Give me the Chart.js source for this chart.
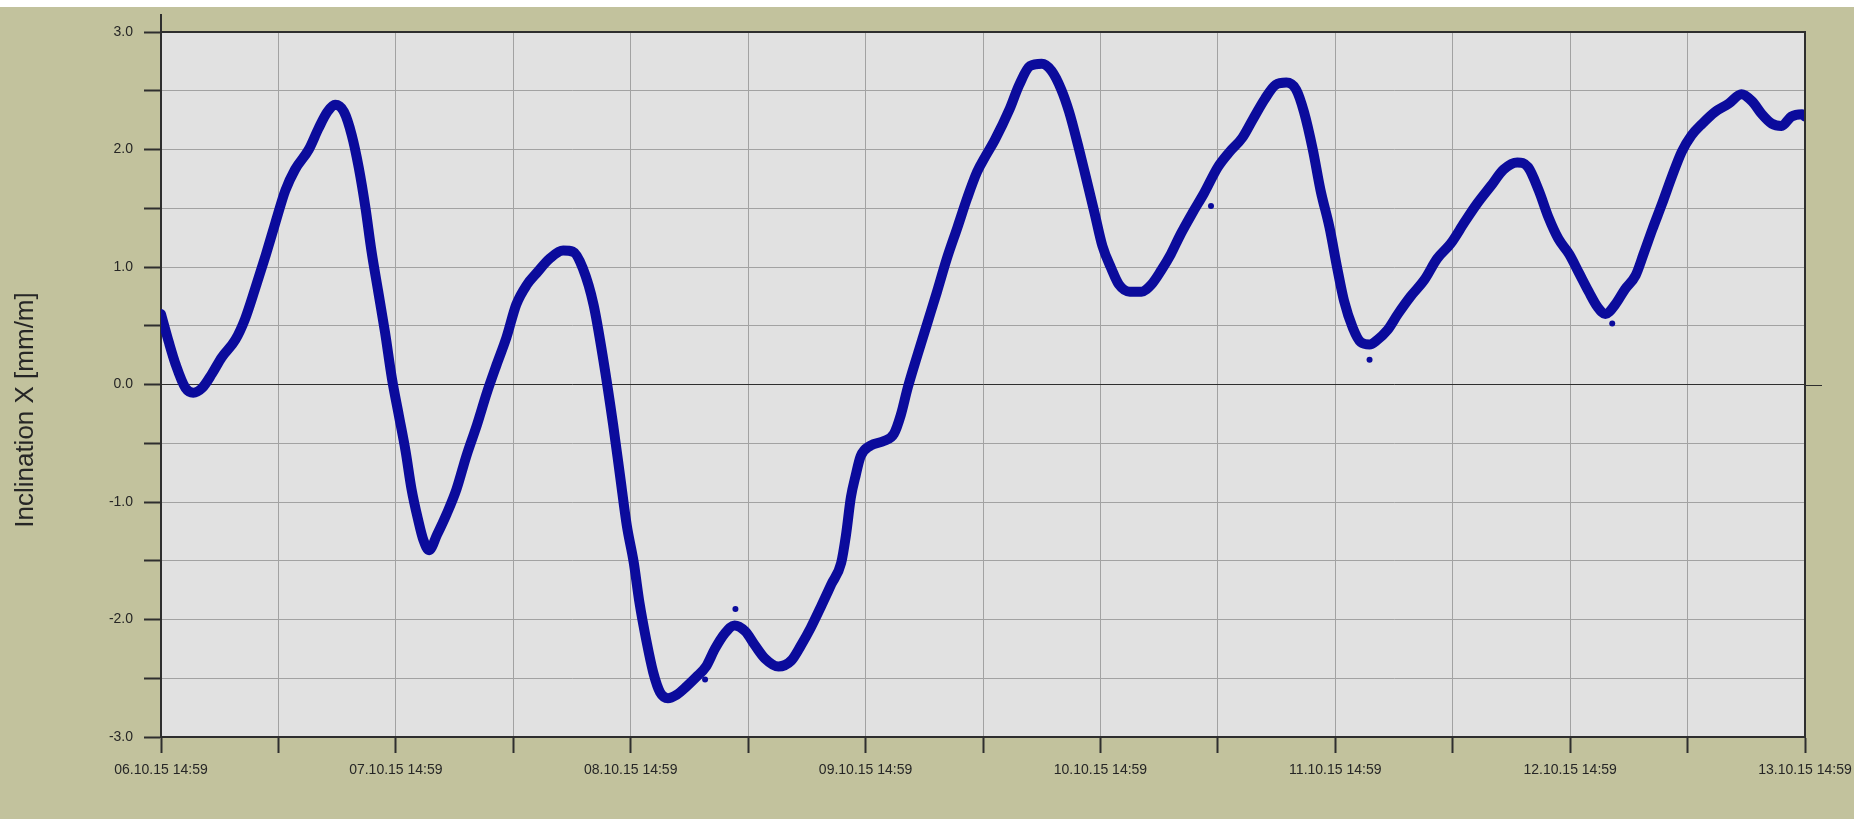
<!DOCTYPE html>
<html>
<head>
<meta charset="utf-8">
<title>Inclination X</title>
<script src="https://cdn.jsdelivr.net/npm/chart.js@4.4.0/dist/chart.umd.min.js"></script>
<style>
  html, body { margin: 0; padding: 0; background: #ffffff; overflow: hidden; }
  #wrap { position: relative; width: 1855px; height: 819px; }
</style>
</head>
<body>
<div id="wrap"><canvas id="chart" width="1855" height="819"></canvas></div>
<script>
// Day labels for the time axis (one per 24 h, starting 06.10.15 14:59)
const xDayLabels = [
  '06.10.15 14:59', '07.10.15 14:59', '08.10.15 14:59', '09.10.15 14:59',
  '10.10.15 14:59', '11.10.15 14:59', '12.10.15 14:59', '13.10.15 14:59'
];

// Hours elapsed since 06.10.15 14:59
const hours = [
  0, 0.8, 1.5, 2.5, 3.3, 4.2, 5.2, 6.2, 7.6, 8.6, 9.6, 10.7, 11.7, 12.7, 13.7,
  15.1, 16.1, 17.0, 17.8, 18.7, 19.5, 20.2, 20.9, 21.5, 22.2, 22.9, 23.6, 24.3,
  25.0, 25.6, 26.3, 26.8, 27.4, 28.2, 29.2, 30.2, 31.2, 32.3, 33.3, 34.3, 35.3,
  36.3, 37.4, 38.4, 39.7, 41.1, 42.1, 43.1, 44.2, 45.2, 46.2, 46.9, 47.6, 48.3,
  48.9, 49.6, 50.3, 51.0, 51.8, 52.7, 53.7, 54.7, 55.7, 56.6, 57.6, 58.6, 59.7,
  60.7, 61.7, 63.1, 64.4, 65.4, 66.4, 67.5, 68.5, 69.5, 70.0, 70.5, 71.0, 71.5,
  72.5, 73.9, 74.9, 75.6, 76.3, 77.3, 78.3, 79.3, 80.3, 81.4, 82.4, 83.4, 84.3,
  85.2, 86.7, 87.7, 88.8, 90.0, 91.0, 92.0, 92.8, 93.7, 94.5, 95.4, 96.2, 97.1,
  97.9, 99.0, 100.2, 101.2, 102.2, 103.2, 104.2, 105.4, 106.6, 108.0, 109.2,
  110.5, 111.6, 112.8, 113.9, 115.0, 116.0, 116.8, 117.7, 118.5, 119.4, 120.2,
  120.9, 121.8, 122.6, 123.5, 124.3, 125.3, 126.4, 127.7, 129.1, 130.4, 131.8,
  133.2, 134.5, 135.9, 137.2, 138.6, 139.7, 140.8, 141.8, 142.8, 143.9, 144.9,
  145.9, 146.8, 147.6, 148.6, 149.6, 150.7, 151.5, 152.4, 153.4, 154.4, 155.4,
  156.4, 157.5, 158.8, 160.2, 161.5, 162.6, 163.6, 164.6, 165.6, 166.6, 167.7, 168.0
];

// Inclination X [mm/m] at each of the hours above
const inclination = [
  0.60, 0.36, 0.17, -0.03, -0.07, -0.03, 0.09, 0.23, 0.38, 0.56, 0.81, 1.10, 1.38, 1.65, 1.83,
  2.00, 2.18, 2.32, 2.38, 2.32, 2.12, 1.85, 1.50, 1.14, 0.79, 0.44, 0.05, -0.26,
  -0.57, -0.89, -1.16, -1.32, -1.41, -1.28, -1.10, -0.89, -0.61, -0.34, -0.07, 0.17, 0.40,
  0.68, 0.85, 0.95, 1.07, 1.14, 1.13, 0.99, 0.68, 0.21, -0.34, -0.77, -1.20, -1.51,
  -1.86, -2.18, -2.45, -2.62, -2.67, -2.64, -2.57, -2.49, -2.40, -2.25, -2.12, -2.05, -2.10,
  -2.22, -2.33, -2.40, -2.35, -2.22, -2.07, -1.88, -1.70, -1.52, -1.28, -0.96, -0.77, -0.61,
  -0.52, -0.48, -0.42, -0.26, -0.03, 0.25, 0.52, 0.79, 1.07, 1.34, 1.59, 1.81, 1.95,
  2.08, 2.34, 2.55, 2.71, 2.73, 2.67, 2.51, 2.32, 2.04, 1.77, 1.46, 1.18, 0.99,
  0.85, 0.79, 0.79, 0.85, 0.97, 1.11, 1.28, 1.46, 1.63, 1.85, 1.98,
  2.10, 2.26, 2.43, 2.55, 2.57, 2.51, 2.32, 2.00, 1.65, 1.34, 0.99,
  0.71, 0.48, 0.36, 0.34, 0.38, 0.46, 0.60, 0.75, 0.89, 1.07, 1.20,
  1.38, 1.54, 1.69, 1.83, 1.89, 1.85, 1.65, 1.42, 1.24, 1.11, 0.95,
  0.79, 0.66, 0.60, 0.68, 0.81, 0.93, 1.11, 1.32, 1.54, 1.77, 1.98,
  2.12, 2.22, 2.32, 2.39, 2.47, 2.41, 2.30, 2.22, 2.20, 2.28, 2.30, 2.28
];

// Isolated readings lying off the main trace
const strayHours  = [55.6, 58.7, 107.3, 123.5, 148.3];
const strayValues = [-2.51, -1.91, 1.52, 0.21, 0.52];

const OLIVE = '#c2c29d';
const PLOT_BG = '#e1e1e1';
const GRID = '#a2a2a2';
const AXIS = '#2e2e2e';
const TRACE = '#0b0b9c';
const TEXT = '#262626';
const TICK_FONT = { family: '"Liberation Sans", Arial, sans-serif', size: 14 };

const tracePoints = hours.map((h, i) => ({ x: h, y: inclination[i] }));
const strayPoints = strayHours.map((h, i) => ({ x: h, y: strayValues[i] }));

// Background, plot frame, extended axis lines and the vertical axis title
const framePlugin = {
  id: 'frame',
  beforeDraw(chart) {
    const { ctx, chartArea: a, width, height } = chart;
    ctx.save();
    ctx.fillStyle = '#ffffff';
    ctx.fillRect(0, 0, width, height);
    ctx.fillStyle = OLIVE;
    ctx.fillRect(0, 7, width - 1, height - 7);
    ctx.fillStyle = PLOT_BG;
    ctx.fillRect(a.left, a.top, a.right - a.left, a.bottom - a.top);
    ctx.restore();
  },
  afterDraw(chart) {
    const { ctx, chartArea: a, scales } = chart;
    ctx.save();
    ctx.strokeStyle = AXIS;
    ctx.lineWidth = 2;
    ctx.beginPath();
    ctx.moveTo(a.left, a.top);
    ctx.lineTo(a.right, a.top);
    ctx.lineTo(a.right, a.bottom);
    ctx.stroke();
    // value axis continues above the frame
    ctx.beginPath();
    ctx.moveTo(a.left, 14);
    ctx.lineTo(a.left, a.top);
    ctx.stroke();
    // zero line runs a little past the right edge
    const y0 = Math.round(scales.y.getPixelForValue(0)) + 0.5;
    ctx.lineWidth = 1;
    ctx.beginPath();
    ctx.moveTo(a.right, y0);
    ctx.lineTo(a.right + 17, y0);
    ctx.stroke();
    // axis title
    ctx.translate(33, 410);
    ctx.rotate(-Math.PI / 2);
    ctx.fillStyle = TEXT;
    ctx.font = '26px "Liberation Sans", Arial, sans-serif';
    ctx.textAlign = 'center';
    ctx.textBaseline = 'alphabetic';
    ctx.fillText('Inclination X [mm/m]', 0, 0);
    ctx.restore();
  }
};

new Chart(document.getElementById('chart'), {
  type: 'line',
  data: {
    datasets: [
      {
        data: tracePoints,
        borderColor: TRACE,
        backgroundColor: TRACE,
        borderWidth: 10,
        borderCapStyle: 'round',
        borderJoinStyle: 'round',
        cubicInterpolationMode: 'monotone',
        pointRadius: 0,
        fill: false
      },
      {
        type: 'scatter',
        data: strayPoints,
        borderColor: TRACE,
        backgroundColor: TRACE,
        pointRadius: 3,
        pointBorderWidth: 0
      }
    ]
  },
  options: {
    responsive: false,
    animation: false,
    devicePixelRatio: 1,
    layout: { padding: { left: 0, top: 32, right: 50, bottom: 0 } },
    plugins: {
      legend: { display: false },
      tooltip: { enabled: false },
      title: { display: false }
    },
    scales: {
      x: {
        type: 'linear',
        min: 0,
        max: 168,
        afterFit(scale) {
          scale.height = 82;
          // end labels may hang into the outer margin
          scale.paddingLeft = 0;
          scale.paddingRight = 0;
        },
        ticks: {
          stepSize: 12,
          autoSkip: false,
          maxRotation: 0,
          minRotation: 0,
          padding: 9,
          color: TEXT,
          font: TICK_FONT,
          callback: (v) => (v % 24 === 0 ? xDayLabels[v / 24] : '')
        },
        grid: {
          color: GRID,
          lineWidth: 1,
          drawTicks: true,
          tickLength: 16,
          tickColor: AXIS,
          tickWidth: 2
        },
        border: { display: true, color: AXIS, width: 2 }
      },
      y: {
        type: 'linear',
        min: -3,
        max: 3,
        afterFit(scale) {
          scale.width = 161;
          scale.paddingTop = 0;
          scale.paddingBottom = 0;
        },
        ticks: {
          stepSize: 0.5,
          padding: 11,
          color: TEXT,
          font: TICK_FONT,
          callback: (v) => (Number.isInteger(v) ? v.toFixed(1) : '')
        },
        grid: {
          color: (c) => (c.tick && c.tick.value === 0 ? AXIS : GRID),
          lineWidth: 1,
          drawTicks: true,
          tickLength: 17,
          tickColor: AXIS,
          tickWidth: 2
        },
        border: { display: true, color: AXIS, width: 2 }
      }
    }
  },
  plugins: [framePlugin]
});
</script>
</body>
</html>
